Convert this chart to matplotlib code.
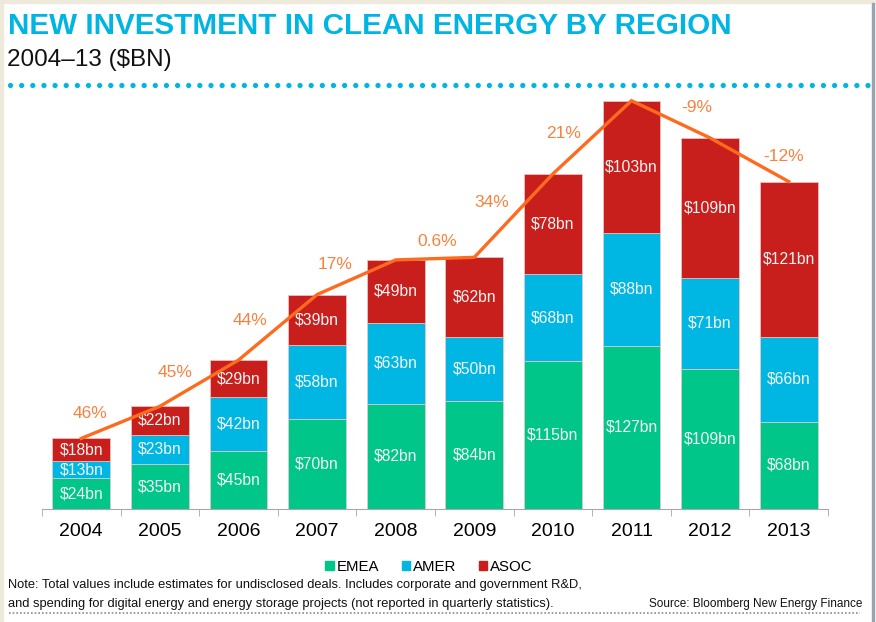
import numpy as np
import matplotlib
matplotlib.use('Agg')
import matplotlib.pyplot as plt
from matplotlib.patches import Patch, Rectangle
from matplotlib.lines import Line2D

plt.rcParams['font.family'] = ['Liberation Sans', 'DejaVu Sans']

# %% data
years = ['2004', '2005', '2006', '2007', '2008', '2009', '2010', '2011', '2012', '2013']
emea  = [24, 35, 45, 70, 82, 84, 115, 127, 109, 68]
amer  = [13, 23, 42, 58, 63, 50, 68, 88, 71, 66]
asoc  = [18, 22, 29, 39, 49, 62, 78, 103, 109, 121]
growth = ['46%', '45%', '44%', '17%', '0.6%', '34%', '21%', '-9%', '-12%']   # 2005..2013

# layout of growth labels along each segment (fraction along segment, pixels above line)
lab_f  = [0.11, 0.19, 0.15, 0.23, 0.53, 0.22, 0.14, 0.83, 0.93]
lab_dy = [21, 25, 30, 22, 17, 36, 30, 24, 22]

c_emea = '#00C68A'
c_amer = '#00B7E3'
c_asoc = '#C81E1C'
c_line = '#FF6B1E'
c_lab  = '#F7823F'
c_title = '#00B5E2'

W, H = 876, 622
fig = plt.figure(figsize=(W/100, H/100), dpi=100)

# frame bits (beige strip top/left, grey line right)
fig.patches.append(Rectangle((0, 1-3/H), 1, 3/H, transform=fig.transFigure, color='#EEEADB', zorder=0))
fig.patches.append(Rectangle((0, 0), 3/W, 1, transform=fig.transFigure, color='#EEEADB', zorder=0))
fig.patches.append(Rectangle((872/W, 0), 2/W, 1-3/H, transform=fig.transFigure, color='#9AA3B0', zorder=0))

# axes placement in pixels
x0, x1 = 42, 828
ybase, ytop = 509, 95
ax = fig.add_axes([x0/W, 1-ybase/H, (x1-x0)/W, (ybase-ytop)/H])
ax.set_xlim(-0.5, 9.5)
ax.set_ylim(0, (ybase-ytop)/1.284)

x = np.arange(len(years))
emea = np.array(emea); amer = np.array(amer); asoc = np.array(asoc)
total = emea + amer + asoc
bw = 0.735
ec = '#ECC9C9'
ax.bar(x, emea, bw, color=c_emea, edgecolor=ec, linewidth=0.5, zorder=2)
ax.bar(x, amer, bw, bottom=emea, color=c_amer, edgecolor=ec, linewidth=0.5, zorder=2)
ax.bar(x, asoc, bw, bottom=emea+amer, color=c_asoc, edgecolor=ec, linewidth=0.5, zorder=2)

for i in range(len(years)):
    ax.text(x[i], emea[i]/2, '$%dbn' % emea[i], color='#F4F4F4', fontsize=11.3, ha='center', va='center', zorder=3)
    ax.text(x[i], emea[i]+amer[i]/2, '$%dbn' % amer[i], color='#F4F4F4', fontsize=11.3, ha='center', va='center', zorder=3)
    ax.text(x[i], emea[i]+amer[i]+asoc[i]/2, '$%dbn' % asoc[i], color='#F4F4F4', fontsize=11.3, ha='center', va='center', zorder=3)

ax.plot(x, total, '-', color=c_line, lw=2.4, zorder=4, solid_joinstyle='miter')

for k in range(len(growth)):
    f = lab_f[k]
    xl = x[k] + f
    yl = total[k] + f*(total[k+1]-total[k])
    ax.annotate(growth[k], (xl, yl), xytext=(0, lab_dy[k]), textcoords='offset pixels',
                color=c_lab, fontsize=12.5, ha='center', va='center', zorder=5)

# axis styling
for s in ['top', 'right', 'left']:
    ax.spines[s].set_visible(False)
ax.spines['bottom'].set_color('#A8A8A8')
ax.set_yticks([])
ax.set_xticks(x)
ax.set_xticklabels(years, fontsize=14)
ax.tick_params(axis='x', length=0, pad=10)
ax.set_xticks(np.arange(-0.5, 10, 1), minor=True)
ax.tick_params(axis='x', which='minor', length=5, color='#A8A8A8', direction='out')
ax.patch.set_visible(False)

# titles
fig.text(8/W, 1-26/H, 'NEW INVESTMENT IN CLEAN ENERGY BY REGION', color=c_title,
         fontsize=21.3, fontweight='bold', ha='left', va='center')
fig.text(7/W, 1-60/H, '2004\u201313 ($BN)', color='#111111', fontsize=17.5, ha='left', va='center')

# dotted separators
fig.lines.append(Line2D([10/W, 868/W], [1-85/H, 1-85/H], transform=fig.transFigure, color=c_title,
                        lw=3.8, linestyle=(0, (0.01, 2.1)), dash_capstyle='round'))
fig.lines.append(Line2D([9/W, 860/W], [1-613/H, 1-613/H], transform=fig.transFigure, color='#8C8C8C',
                        lw=1.2, linestyle=(0, (1, 1.2))))

# legend
handles = [Patch(color=c_emea, label='EMEA'), Patch(color=c_amer, label='AMER'), Patch(color=c_asoc, label='ASOC')]
fig.legend(handles=handles, loc='center', bbox_to_anchor=(429/W, 1-567/H), ncol=3, frameon=False,
           fontsize=10.8, handlelength=0.55, handleheight=0.55, handletextpad=0.2, columnspacing=1.5)

# notes
fig.text(8/W, 1-585/H, 'Note: Total values include estimates for undisclosed deals. Includes corporate and government R&D,',
         fontsize=9.3, ha='left', va='center', color='#111111')
fig.text(8/W, 1-604/H, 'and spending for digital energy and energy storage projects (not reported in quarterly statistics).',
         fontsize=9.3, ha='left', va='center', color='#111111')
fig.text(862/W, 1-604/H, 'Source: Bloomberg New Energy Finance', fontsize=8.5, ha='right', va='center', color='#111111')

fig.savefig('out.png', dpi=100)
